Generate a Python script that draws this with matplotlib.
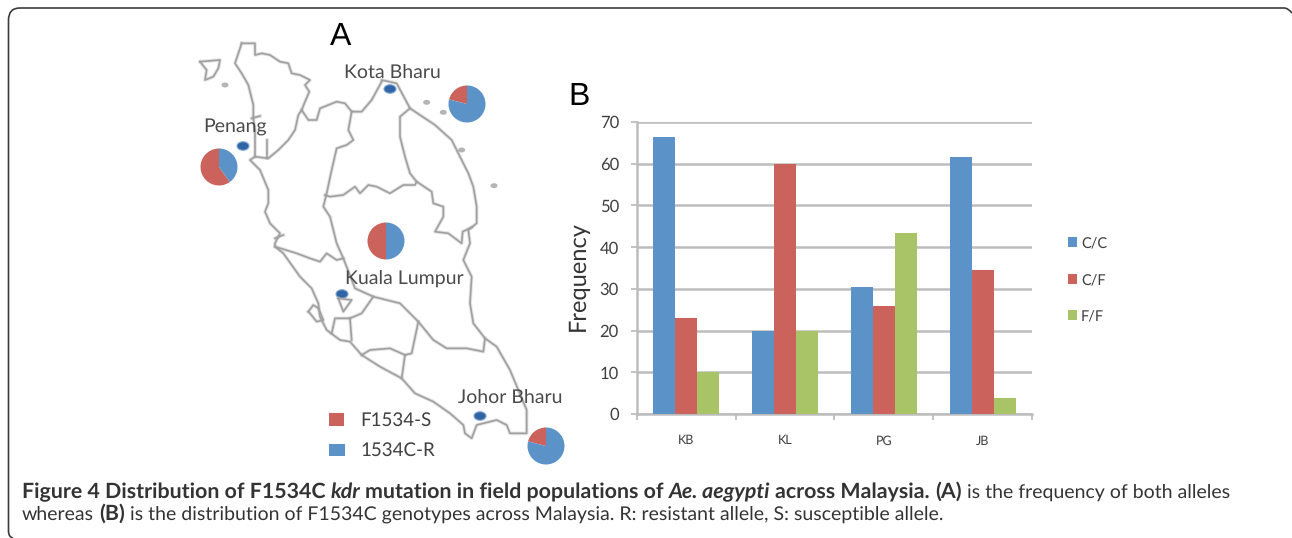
import numpy as np
import matplotlib
matplotlib.use("Agg")
import matplotlib.pyplot as plt
from matplotlib.patches import Ellipse, Rectangle, PathPatch
from matplotlib.path import Path

plt.rcParams["text.hinting"] = "no_hinting"

W, H = 1292, 538

# genotype data, panel B
sites = ["KB", "KL", "PG", "JB"]
cc = [66.3, 20, 30.5, 61.6]
cf = [23, 60, 26, 34.5]
ff = [10, 20, 43.3, 3.8]
genotypes = ["C/C", "C/F", "F/F"]

# allele share per town, panel A (susceptible, resistant)
pie_kb = [21, 79]
pie_pg = [60, 40]
pie_kl = [50, 50]
pie_jb = [21, 79]

# map outline
kedah = [(185,100),(225,100),(225,135),(245,130),(270,135),(300,155),(325,160),(335,190),(360,195),(390,210),(375,225),(388,245),(375,275),(365,300),(355,315),(345,360),(325,390),(295,420),(265,445),(225,440)]
coast = [(185,100),(165,160),(185,190),(205,225),(220,285),(220,325),(225,360),(225,440),(210,450),(240,480),(265,540),(265,580),(255,605),(270,640),(300,670),(285,700),(285,710),(310,730),(360,800),(395,835),(415,880),(420,920),(440,960),(480,990),(510,995),(545,1035),(600,1070),(665,1105),(705,1150),(760,1175),(810,1210),(850,1245),(855,1270),(875,1285),(890,1245),(950,1230),(980,1245),(990,1270),(1040,1270),(1040,1200),(990,1080),(950,1010),(915,985),(880,940),(870,880),(875,800),(850,750),(870,700),(865,660),(890,640),(890,590),(880,530),(865,490),(815,390),(765,345),(690,295),(650,220),(605,210)]
kelantan = [(365,300),(385,330),(410,330),(420,295),(470,275),(495,280),(515,305),(545,305),(575,270),(605,215)]
perak = [(515,305),(505,360),(520,390),(500,405),(470,415),(455,480),(440,550),(430,590),(450,620),(470,700),(490,745),(525,835),(580,860),(660,880),(715,935),(760,990),(800,1015),(860,1015),(910,1025),(915,985)]
pahang = [(435,555),(450,560),(490,555),(525,530),(540,550),(565,525),(590,530),(630,550),(670,525),(705,525),(710,515),(755,545),(760,580),(790,590),(790,620),(765,665),(805,670),(845,700),(848,665),(875,652)]
terengganu = [(690,295),(660,320),(660,380),(675,440),(690,490),(710,515)]
perak_south = [(285,710),(350,730),(390,745),(420,755),(440,730),(470,750),(490,745)]
selangor = [(580,860),(545,910),(510,925),(465,925),(455,970)]
selangor2 = [(510,925),(515,990)]
negeri = [(715,935),(695,1030),(675,1035),(630,1015),(570,1020),(545,1035)]
negeri2 = [(675,1035),(665,1105)]
kl_blob = [(475,865),(515,870),(490,905),(475,865)]
penang_line = [(260,390),(260,445)]
penang_mark = [(215,325),(240,318)]
perak_mark = [(285,685),(310,675)]
langkawi = [(60,155),(120,150),(115,175),(100,200),(75,210),(80,180),(60,155)]
klang = [(385,905),(400,885),(415,895),(430,930),(410,935),(390,910),(385,905)]
borders = [kedah, coast, kelantan, perak, pahang, terengganu, perak_south, selangor, selangor2,
           negeri, negeri2, kl_blob, penang_line, penang_mark, perak_mark, langkawi, klang]
specks = [(135,225),(740,277),(790,307),(845,420),(942,527)]

BLUE = "#5b93c9"
RED = "#cc625c"
GREEN = "#a9c467"
TEXT = "#404040"
GRID = "#bdbdbd"


def zx(x):  # traced coordinates to figure pixels
    return 180 + x / 3


def zy(y):
    return 10 + y / 3


fig = plt.figure(figsize=(W / 100, H / 100), dpi=100)
bg = fig.add_axes([0, 0, 1, 1])
bg.set_xlim(0, W)
bg.set_ylim(H, 0)
bg.axis("off")

# panel frame, open on the right and at the bottom
verts = [(13, 538), (8.5, 537), (8.5, 531), (8.5, 20), (8.5, 8), (20, 8), (1284, 8), (1288, 8), (1292, 13)]
codes = [Path.MOVETO, Path.CURVE3, Path.CURVE3, Path.LINETO, Path.CURVE3, Path.CURVE3, Path.LINETO, Path.CURVE3, Path.CURVE3]
bg.add_patch(PathPatch(Path(verts, codes), fc="none", ec="#3c3c3c", lw=1.2))

# map, a wide faint line under a thin one for the soft look
for line in borders:
    pts = np.array(line, dtype=float)
    bg.plot(zx(pts[:, 0]), zy(pts[:, 1]), color="#a0a0a0", lw=2.6, alpha=0.3, solid_joinstyle="round")
    bg.plot(zx(pts[:, 0]), zy(pts[:, 1]), color="#a0a0a0", lw=1.2, solid_joinstyle="round")
for p in specks:
    bg.add_patch(Ellipse((zx(p[0]), zy(p[1])), 7, 5, fc="#b5b5b5", ec="none"))

# town markers and labels
towns = [("Kota Bharu", 344, 72, 390, 89), ("Penang", 203, 127, 243, 146),
         ("Kuala Lumpur", 345, 278, 342, 294), ("Johor Bharu", 458, 397, 480, 416)]
for name, tx, ty, mx, my in towns:
    bg.text(tx, ty, name, family="Lato", fontsize=14, color="#4a4a4a", va="center")
    bg.add_patch(Ellipse((mx, my), 12, 8.5, fc="#2f65a5", ec="#7fa5cf", lw=0.8))

bg.text(341, 37, "A", family="Liberation Sans", fontsize=23, color="black", ha="center", va="center")
bg.text(579, 97, "B", family="Liberation Sans", fontsize=23, color="black", ha="center", va="center")

# map legend
bg.add_patch(Rectangle((329, 413), 15, 13, fc=RED, ec="none"))
bg.add_patch(Rectangle((329, 444), 16, 12, fc=BLUE, ec="none"))
bg.text(360, 420, "F1534-S", family="Lato", fontsize=13.5, color=TEXT, va="center")
bg.text(360, 450, "1534C-R", family="Lato", fontsize=13.5, color=TEXT, va="center")

# pies
for vals, cx, cy in [(pie_kb, 467, 104), (pie_pg, 219, 167), (pie_kl, 386, 241), (pie_jb, 546, 446)]:
    r = 18.5
    pa = fig.add_axes([(cx - r) / W, 1 - (cy + r) / H, 2 * r / W, 2 * r / H])
    pa.pie(vals, colors=[RED, BLUE], startangle=90, radius=1)
    pa.set_xlim(-1, 1)
    pa.set_ylim(-1, 1)

# bar chart
x0, x1, y0, y1 = 637, 1032, 414, 122
ax = fig.add_axes([x0 / W, 1 - y0 / H, (x1 - x0) / W, (y0 - y1) / H])
ax.patch.set_alpha(0)
xpos = np.arange(len(sites))
width = 0.222
ax.bar(xpos - width, cc, width, color=BLUE, zorder=3)
ax.bar(xpos, cf, width, color=RED, zorder=3)
ax.bar(xpos + width, ff, width, color=GREEN, zorder=3)
ax.set_xlim(-0.5, 3.5)
ax.set_ylim(0, 70)
ax.set_yticks(range(0, 71, 10))
ax.yaxis.grid(True, color=GRID, lw=1.8, zorder=0)
ax.set_xticks(np.arange(-0.5, 4, 1))
ax.set_xticklabels([])
ax.set_xticks(xpos, minor=True)
ax.set_xticklabels(sites, minor=True, family="Lato", fontsize=9, color=TEXT)
ax.tick_params(axis="x", which="minor", length=0, pad=15)
ax.tick_params(axis="x", which="major", length=4, width=1.3, color=GRID)
ax.tick_params(axis="y", length=4, width=1.3, color=GRID, labelsize=12, labelcolor=TEXT, pad=9)
for t in ax.get_yticklabels():
    t.set_family("Lato")
for s in ["top", "right"]:
    ax.spines[s].set_visible(False)
for s in ["left", "bottom"]:
    ax.spines[s].set_color(GRID)
    ax.spines[s].set_linewidth(1.8)
bg.text(578, 276, "Frequency", family="Lato", fontsize=17, color="#333333", rotation=90, ha="center", va="center")

# chart legend
for name, col, ly in zip(genotypes, [BLUE, RED, GREEN], [242, 279, 315]):
    bg.add_patch(Rectangle((1068, ly - 5), 9, 10, fc=col, ec="none"))
    bg.text(1081, ly + 1, name, family="Lato", fontsize=10.5, color=TEXT, va="center")

# caption, written run by run
fig.canvas.draw()
rend = fig.canvas.get_renderer()
CAP_SIZE = {"bold": 15.4, "normal": 14.0}


def text_w(s, weight, style):
    t = bg.text(0, 0, s, family="Lato", fontsize=CAP_SIZE[weight], weight=weight, style=style)
    w = t.get_window_extent(rend).width
    t.remove()
    return w


def runs(x, y, parts):
    for s, weight, style in parts:
        bg.text(x, y, s, family="Lato", fontsize=CAP_SIZE[weight], weight=weight, style=style, color="#333333", va="baseline")
        x += text_w(s, weight, style) + text_w("a a", weight, style) - text_w("aa", weight, style)


runs(22, 498, [("Figure 4 Distribution of F1534C", "bold", "normal"), ("kdr", "bold", "italic"),
               ("mutation in field populations of", "bold", "normal"), ("Ae. aegypti", "bold", "italic"),
               ("across Malaysia.", "bold", "normal"), ("(A)", "bold", "normal"),
               ("is the frequency of both alleles", "normal", "normal")])
runs(22, 520, [("whereas", "normal", "normal"), ("(B)", "bold", "normal"),
               ("is the distribution of F1534C genotypes across Malaysia. R: resistant allele, S: susceptible allele.", "normal", "normal")])

fig.savefig("out.png", dpi=100)
